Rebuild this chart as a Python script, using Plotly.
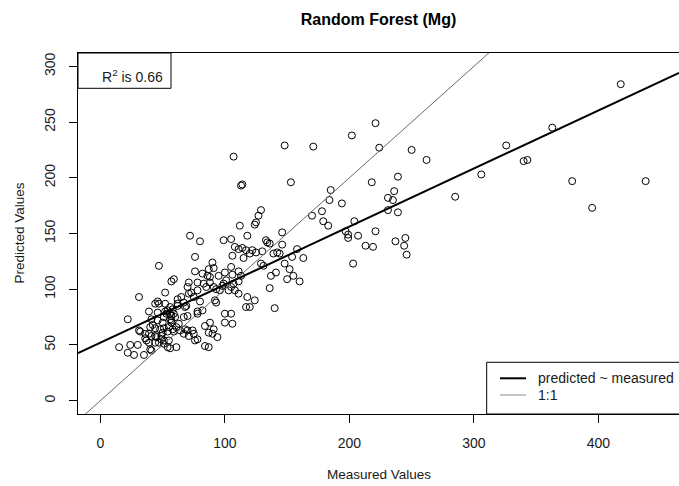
import plotly.graph_objects as go

# ---- data ----
measured = [418, 363, 326, 340, 343, 306, 285, 379, 438, 395,
            221, 202, 171, 224, 250, 262, 239, 218, 185, 184,
            194, 178, 170, 179, 183, 236, 231, 235, 231, 239,
            204, 197, 199, 199, 207, 221, 237, 245, 244, 213,
            219, 246, 163, 203, 153, 148, 146, 146, 158, 136,
            142, 139, 144, 154, 148, 152, 141, 137, 155, 150,
            160, 136, 140, 107, 114, 113, 129, 127, 125, 124,
            112, 118, 72, 80, 99, 105, 108, 111, 114, 117,
            122, 125, 133, 134, 47, 76, 106, 120, 115, 130,
            129, 131, 90, 91, 82, 86, 88, 76, 57, 59,
            71, 78, 52, 70, 73, 78, 65, 62, 67, 69,
            62, 71, 75, 80, 85, 88, 93, 96, 99, 100,
            101, 103, 105, 111, 92, 93, 82, 78, 78, 68,
            118, 124, 117, 120, 111, 100, 105, 46, 44, 47,
            52, 39, 46, 52, 56, 59, 31, 22, 31, 32,
            36, 39, 41, 44, 45, 49, 54, 58, 59, 61,
            40, 42, 44, 48, 51, 36, 37, 39, 44, 47,
            49, 51, 55, 54, 56, 51, 61, 15, 24, 30,
            22, 27, 35, 40, 41, 50, 62, 54, 53, 57,
            56, 57, 55, 46, 41, 56, 58, 51, 50, 57,
            60, 63, 67, 70, 64, 67, 70, 87, 95, 105,
            106, 111, 113, 83, 91, 98, 107, 108, 100, 106,
            84, 88, 91, 87, 94, 90, 68, 74, 71, 75,
            76, 78, 84, 87]
predicted = [284, 245, 229, 215, 216, 203, 183, 197, 197, 173,
             249, 238, 228, 227, 225, 216, 201, 196, 189, 180,
             177, 170, 166, 161, 157, 188, 182, 180, 171, 169,
             161, 152, 149, 146, 148, 152, 143, 146, 139, 139,
             138, 131, 128, 123, 196, 229, 151, 140, 136, 141,
             133, 132, 132, 129, 123, 118, 115, 112, 112, 109,
             107, 101, 83, 219, 194, 193, 171, 166, 160, 158,
             157, 148, 148, 143, 144, 145, 138, 136, 137, 135,
             135, 133, 144, 142, 121, 129, 130, 132, 128, 134,
             123, 121, 124, 119, 114, 112, 111, 116, 107, 109,
             106, 106, 97, 102, 97, 99, 93, 91, 88, 85,
             87, 96, 93, 89, 102, 106, 100, 99, 105, 115,
             108, 99, 102, 107, 90, 88, 81, 80, 78, 84,
             93, 90, 84, 84, 96, 78, 78, 89, 87, 87,
             87, 80, 79, 80, 78, 78, 93, 73, 63, 62,
             60, 60, 58, 58, 57, 58, 62, 64, 62, 66,
             66, 68, 65, 64, 65, 56, 54, 52, 52, 52,
             55, 54, 54, 48, 47, 51, 48, 48, 50, 50,
             43, 41, 41, 46, 45, 61, 85, 81, 78, 76,
             73, 72, 66, 72, 73, 84, 82, 75, 70, 70,
             75, 69, 75, 76, 63, 60, 63, 118, 112, 120,
             113, 116, 112, 105, 102, 103, 105, 99, 70, 69,
             67, 70, 64, 61, 57, 60, 64, 63, 58, 60,
             54, 55, 49, 48]

reg_intercept = 52.0   # fitted line predicted ~ measured
reg_slope = 0.521
r2_value = "0.66"

x_ticks = [0, 100, 200, 300, 400]
y_ticks = [0, 50, 100, 150, 200, 250, 300]
x_range = [-18, 464.8]
y_range = [-12, 312]

title_text = "Random Forest (Mg)"
x_title = "Measured Values"
y_title = "Predicted Values"
legend_labels = ["predicted ~ measured", "1:1"]

FONT = "Liberation Sans, Arial, sans-serif"
TXT = "#1a1a1a"
GRAY = "#6a6a6a"

fig = go.Figure()
fig.add_trace(go.Scatter(
    x=measured, y=predicted, mode="markers",
    marker=dict(symbol="circle-open", size=7, color="black", line=dict(width=1)),
    showlegend=False, hoverinfo="skip"))
fig.add_trace(go.Scatter(
    x=x_range, y=x_range, mode="lines",
    line=dict(color=GRAY, width=1), showlegend=False, hoverinfo="skip"))
fig.add_trace(go.Scatter(
    x=x_range, y=[reg_intercept + reg_slope * v for v in x_range], mode="lines",
    line=dict(color="black", width=2), showlegend=False, hoverinfo="skip"))

axis_common = dict(
    ticks="outside", ticklen=8, tickwidth=1, tickcolor="black",
    showline=True, linecolor="black", linewidth=1,
    showgrid=False, zeroline=False,
    tickfont=dict(family=FONT, size=14, color=TXT),
)

fig.update_layout(
    width=679, height=486,
    margin=dict(l=78, r=0, t=53, b=72),
    plot_bgcolor="white", paper_bgcolor="white",
    showlegend=False,
    title=dict(text="<b>" + title_text + "</b>", x=0.5, xref="paper",
               y=1 - 19 / 486, yref="container", yanchor="middle", xanchor="center",
               font=dict(family=FONT, size=16, color="black")),
    xaxis=dict(range=x_range, tickvals=x_ticks, mirror=True,
               ticklabelstandoff=8, **axis_common),
    yaxis=dict(range=y_range, tickvals=y_ticks, tickangle=-90, mirror=False,
               ticklabelstandoff=8, **axis_common),
)

PW, PH = 601.0, 361.0  # plot area size in px
def px_x(px):
    return (px - 78) / PW
def px_y(py):
    return (414 - py) / PH

shapes = [
    # R^2 box (top-left)
    dict(type="rect", xref="paper", yref="paper", x0=0, x1=px_x(171), y0=px_y(88.3), y1=1,
         line=dict(color="black", width=1), fillcolor="rgba(0,0,0,0)"),
    # legend box (bottom-right, running past the right edge)
    dict(type="rect", xref="paper", yref="paper", x0=px_x(486.7), x1=1.05, y0=0, y1=px_y(362.3),
         line=dict(color="black", width=1), fillcolor="white", layer="above"),
    dict(type="line", xref="paper", yref="paper", x0=px_x(500), x1=px_x(526),
         y0=px_y(378.3), y1=px_y(378.3), line=dict(color="black", width=2)),
    dict(type="line", xref="paper", yref="paper", x0=px_x(500), x1=px_x(526),
         y0=px_y(395), y1=px_y(395), line=dict(color="#8c8c8c", width=1)),
]
fig.update_layout(shapes=shapes)

annotations = [
    dict(text="R<sup>2</sup> is " + r2_value, xref="paper", yref="paper",
         x=px_x(165), y=px_y(76), xanchor="right", yanchor="middle", showarrow=False,
         font=dict(family=FONT, size=14, color=TXT)),
    dict(text=legend_labels[0], xref="paper", yref="paper",
         x=px_x(536), y=px_y(378.3), xanchor="left", yanchor="middle", showarrow=False,
         font=dict(family=FONT, size=14, color=TXT)),
    dict(text=legend_labels[1], xref="paper", yref="paper",
         x=px_x(536), y=px_y(395), xanchor="left", yanchor="middle", showarrow=False,
         font=dict(family=FONT, size=14, color=TXT)),
    dict(text=x_title, xref="paper", yref="paper",
         x=0.5, y=px_y(474), xanchor="center", yanchor="middle", showarrow=False,
         font=dict(family=FONT, size=13.5, color=TXT)),
    dict(text=y_title, xref="paper", yref="paper", textangle=-90,
         x=px_x(19), y=0.5, xanchor="center", yanchor="middle", showarrow=False,
         font=dict(family=FONT, size=13.5, color=TXT)),
]
fig.update_layout(annotations=annotations)

fig.write_html("out.html")
